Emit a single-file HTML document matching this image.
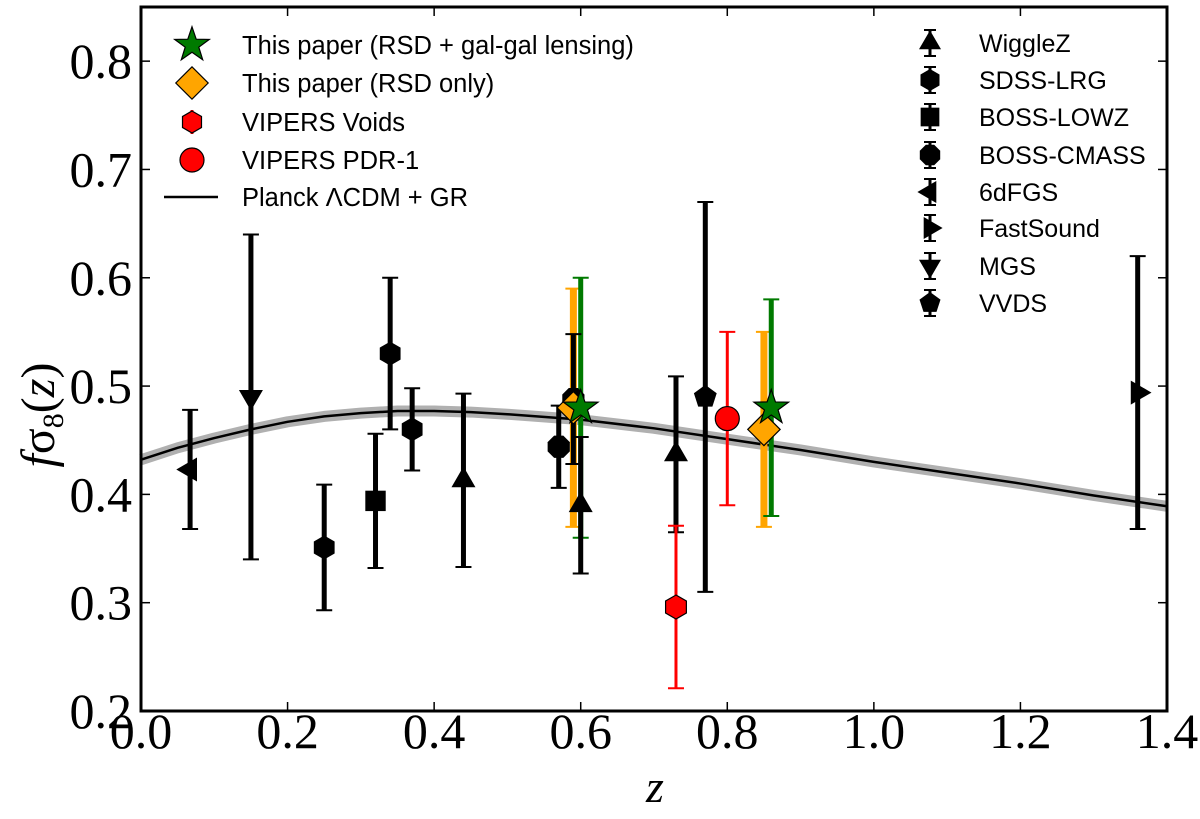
<!DOCTYPE html>
<html><head><meta charset="utf-8"><style>
body{margin:0;background:#fff}
svg{display:block}
text{font-family:"Liberation Sans",sans-serif}
</style></head><body>
<svg id="chart" width="1200" height="819" xmlns="http://www.w3.org/2000/svg">
<g id="band"></g>
<g id="marks"></g>
<g id="axes"></g>
<g id="legend"></g>
</svg>
<script>
// ---- data ----
const xTicks=[0.0,0.2,0.4,0.6,0.8,1.0,1.2,1.4];
const xTickLabels=["0.0","0.2","0.4","0.6","0.8","1.0","1.2","1.4"];
const yTicks=[0.2,0.3,0.4,0.5,0.6,0.7,0.8];
const yTickLabels=["0.2","0.3","0.4","0.5","0.6","0.7","0.8"];
const planckZ=[0.0,0.05,0.1,0.15,0.2,0.25,0.3,0.35,0.4,0.45,0.5,0.6,0.7,0.8,0.9,1.0,1.1,1.2,1.3,1.4];
const planckF=[0.432,0.443,0.452,0.460,0.467,0.472,0.475,0.477,0.477,0.476,0.474,0.469,0.461,0.451,0.441,0.430,0.420,0.410,0.399,0.389];
const blackNames=["6dFGS","MGS","SDSS-LRG","BOSS-LOWZ","SDSS-LRG","SDSS-LRG","WiggleZ","BOSS-CMASS","BOSS-CMASS","WiggleZ","WiggleZ","VVDS","FastSound"];
const blackZ=[0.067,0.15,0.25,0.32,0.34,0.37,0.44,0.57,0.59,0.60,0.73,0.77,1.36];
const blackF=[0.423,0.49,0.351,0.394,0.53,0.46,0.413,0.444,0.488,0.390,0.437,0.49,0.494];
const blackErr=[0.055,0.15,0.058,0.062,0.07,0.038,0.08,0.038,0.06,0.063,0.072,0.18,0.126];
const blackMarker=["left","down","hex","square","hex","hex","up","oct","oct","up","up","pent","right"];
const voidsZ=[0.73], voidsF=[0.296], voidsErr=[0.075];
const pdrZ=[0.80], pdrF=[0.47], pdrErr=[0.08];
const rsdZ=[0.59,0.85], rsdF=[0.48,0.46], rsdLo=[0.37,0.37], rsdHi=[0.59,0.55];
const lensZ=[0.60,0.86], lensF=[0.48,0.48], lensLo=[0.36,0.38], lensHi=[0.60,0.58];

// ---- axes functions ----
const L=141,R=1167,T=7,B=711;
const X=z=>L+(z-0)/(1.4-0)*(R-L);
const Y=f=>B-(f-0.2)/(0.85-0.2)*(B-T);
const NS="http://www.w3.org/2000/svg";
function el(tag,attrs,parent){const e=document.createElementNS(NS,tag);for(const k in attrs)e.setAttribute(k,attrs[k]);parent.appendChild(e);return e;}
const gB=document.getElementById('band'),gM=document.getElementById('marks'),gA=document.getElementById('axes'),gL=document.getElementById('legend');

function poly(n,r,rot){let p=[];for(let i=0;i<n;i++){const a=rot+i*2*Math.PI/n;p.push((r*Math.cos(a)).toFixed(1)+","+(r*Math.sin(a)).toFixed(1));}return p.join(" ");}
function marker(type,cx,cy,fill,parent,s){
  s=s||11;let e;
  const g=el('g',{transform:`translate(${cx},${cy})`},parent);
  if(type==='up')e=el('polygon',{points:poly(3,s*1.15,-Math.PI/2)},g);
  else if(type==='down')e=el('polygon',{points:poly(3,s*1.15,Math.PI/2)},g);
  else if(type==='left')e=el('polygon',{points:poly(3,s*1.15,Math.PI)},g);
  else if(type==='right')e=el('polygon',{points:poly(3,s*1.15,0)},g);
  else if(type==='hex')e=el('polygon',{points:poly(6,s,-Math.PI/2)},g);
  else if(type==='oct')e=el('polygon',{points:poly(8,s,Math.PI/8)},g);
  else if(type==='pent')e=el('polygon',{points:poly(5,s,-Math.PI/2)},g);
  else if(type==='square')e=el('rect',{x:-s*0.85,y:-s*0.85,width:s*1.7,height:s*1.7},g);
  else if(type==='circle')e=el('circle',{r:s},g);
  else if(type==='diamond')e=el('polygon',{points:poly(4,s*1.35,0)},g);
  else if(type==='star'){let p=[];for(let i=0;i<10;i++){const r=i%2?s*0.55:s*1.4,a=-Math.PI/2+i*Math.PI/5;p.push((r*Math.cos(a)).toFixed(1)+","+(r*Math.sin(a)).toFixed(1));}e=el('polygon',{points:p.join(" ")},g);}
  e.setAttribute('fill',fill);e.setAttribute('stroke','#000');e.setAttribute('stroke-width',fill==='#000'?0:1.2);
  return g;
}
function errbar(x,lo,hi,color,w,parent){
  el('line',{x1:x,x2:x,y1:Y(lo),y2:Y(hi),stroke:color,'stroke-width':w},parent);
  el('line',{x1:x-8,x2:x+8,y1:Y(lo),y2:Y(lo),stroke:color,'stroke-width':2},parent);
  el('line',{x1:x-8,x2:x+8,y1:Y(hi),y2:Y(hi),stroke:color,'stroke-width':2},parent);
}

// Planck band + line
let pts=planckZ.map((z,i)=>X(z)+","+Y(planckF[i])).join(" ");
const band=el('polyline',{points:pts,fill:'none',stroke:'#b0b0b0','stroke-width':11,'stroke-linejoin':'round'},gB);


const pl=el('polyline',{points:pts,fill:'none',stroke:'#000','stroke-width':2.5,'stroke-linejoin':'round'},gB);



// orange & green
rsdZ.forEach((z,i)=>{errbar(X(z),rsdLo[i],rsdHi[i],'#ffa500',7,gM);});
lensZ.forEach((z,i)=>{errbar(X(z),lensLo[i],lensHi[i],'#007a00',5,gM);});
// black points
blackZ.forEach((z,i)=>{
  const g=el('g',{},gM);
  
  
  errbar(X(z),blackF[i]-blackErr[i],blackF[i]+blackErr[i],'#000',5,g);
  marker(blackMarker[i],X(z),Y(blackF[i]),'#000',g,12);
});
voidsZ.forEach((z,i)=>{const g=el('g',{},gM);
  
  
  errbar(X(z),voidsF[i]-voidsErr[i],voidsF[i]+voidsErr[i],'#f00',3,g);marker('hex',X(z),Y(voidsF[i]),'#f00',g,12);});
pdrZ.forEach((z,i)=>{const g=el('g',{},gM);
  
  
  errbar(X(z),pdrF[i]-pdrErr[i],pdrF[i]+pdrErr[i],'#f00',3,g);marker('circle',X(z),Y(pdrF[i]),'#f00',g,12);});
rsdZ.forEach((z,i)=>{const m=marker('diamond',X(z),Y(rsdF[i]),'#ffa500',gM,12);
  
  });
lensZ.forEach((z,i)=>{const m=marker('star',X(z),Y(lensF[i]),'#007a00',gM,13);
  
  });

// axes
el('rect',{x:L,y:T,width:R-L,height:B-T,fill:'none',stroke:'#000','stroke-width':3},gA);
xTicks.forEach((t,i)=>{
  el('line',{x1:X(t),x2:X(t),y1:B,y2:B-9,stroke:'#000','stroke-width':1.5},gA);
  el('line',{x1:X(t),x2:X(t),y1:T,y2:T+9,stroke:'#000','stroke-width':1.5},gA);
  const tx=el('text',{x:X(t),y:B+37,'text-anchor':'middle','font-size':50,style:'font-family:"Liberation Serif",serif'},gA);
  tx.textContent=xTickLabels[i];
  
  
});
yTicks.forEach((t,i)=>{
  el('line',{x1:L,x2:L+9,y1:Y(t),y2:Y(t),stroke:'#000','stroke-width':1.5},gA);
  el('line',{x1:R,x2:R-9,y1:Y(t),y2:Y(t),stroke:'#000','stroke-width':1.5},gA);
  const tx=el('text',{x:L-9,y:Y(t)+17,'text-anchor':'end','font-size':50,style:'font-family:"Liberation Serif",serif'},gA);
  tx.textContent=yTickLabels[i];
  
  
});
const xt=el('text',{x:655,y:802,'text-anchor':'middle','font-size':46,'font-style':'italic',style:'font-family:"Liberation Serif",serif'},gA);
xt.textContent='z';


const yt=el('text',{x:0,y:0,'text-anchor':'middle','font-size':48,transform:'translate(54,415) rotate(-90)',style:'font-family:"Liberation Serif",serif'},gA);
yt.innerHTML='<tspan font-style="italic">f</tspan>σ<tspan font-size="30" dy="9">8</tspan><tspan dy="-9">(</tspan><tspan font-style="italic">z</tspan>)';



// legend
function legText(x,y,s,fs){const t=el('text',{x:x,y:y+9,'font-size':fs},gL);t.textContent=s;
  
  }
const lY=[45,83,122,160,197];
marker('star',192,lY[0],'#007a00',gL,13);legText(242,lY[0],'This paper (RSD + gal-gal lensing)',25.5);
marker('diamond',192,lY[1],'#ffa500',gL,12);legText(242,lY[1],'This paper (RSD only)',25.5);
el('line',{x1:192,x2:192,y1:lY[2]-12,y2:lY[2]+12,stroke:'#f00','stroke-width':3},gL);marker('hex',192,lY[2],'#f00',gL,11);legText(242,lY[2],'VIPERS Voids',25.5);
el('line',{x1:192,x2:192,y1:lY[3]-12,y2:lY[3]+12,stroke:'#f00','stroke-width':3},gL);marker('circle',192,lY[3],'#f00',gL,12);legText(242,lY[3],'VIPERS PDR-1',25.5);
el('line',{x1:164,x2:218,y1:lY[4],y2:lY[4],stroke:'#000','stroke-width':2.5},gL);legText(242,lY[4],'Planck ΛCDM + GR',25.5);
const rNames=["WiggleZ","SDSS-LRG","BOSS-LOWZ","BOSS-CMASS","6dFGS","FastSound","MGS","VVDS"];
const rM=["up","hex","square","oct","left","right","down","pent"];
const rY=[43,80,117,155,192,228,266,303];
rNames.forEach((n,i)=>{
  el('line',{x1:930,x2:930,y1:rY[i]-13,y2:rY[i]+13,stroke:'#000','stroke-width':3},gL);
  el('line',{x1:924,x2:936,y1:rY[i]-13,y2:rY[i]-13,stroke:'#000','stroke-width':2},gL);
  el('line',{x1:924,x2:936,y1:rY[i]+13,y2:rY[i]+13,stroke:'#000','stroke-width':2},gL);
  marker(rM[i],930,rY[i],'#000',gL,11);legText(979,rY[i],n,25);
});
</script>
</body></html>
